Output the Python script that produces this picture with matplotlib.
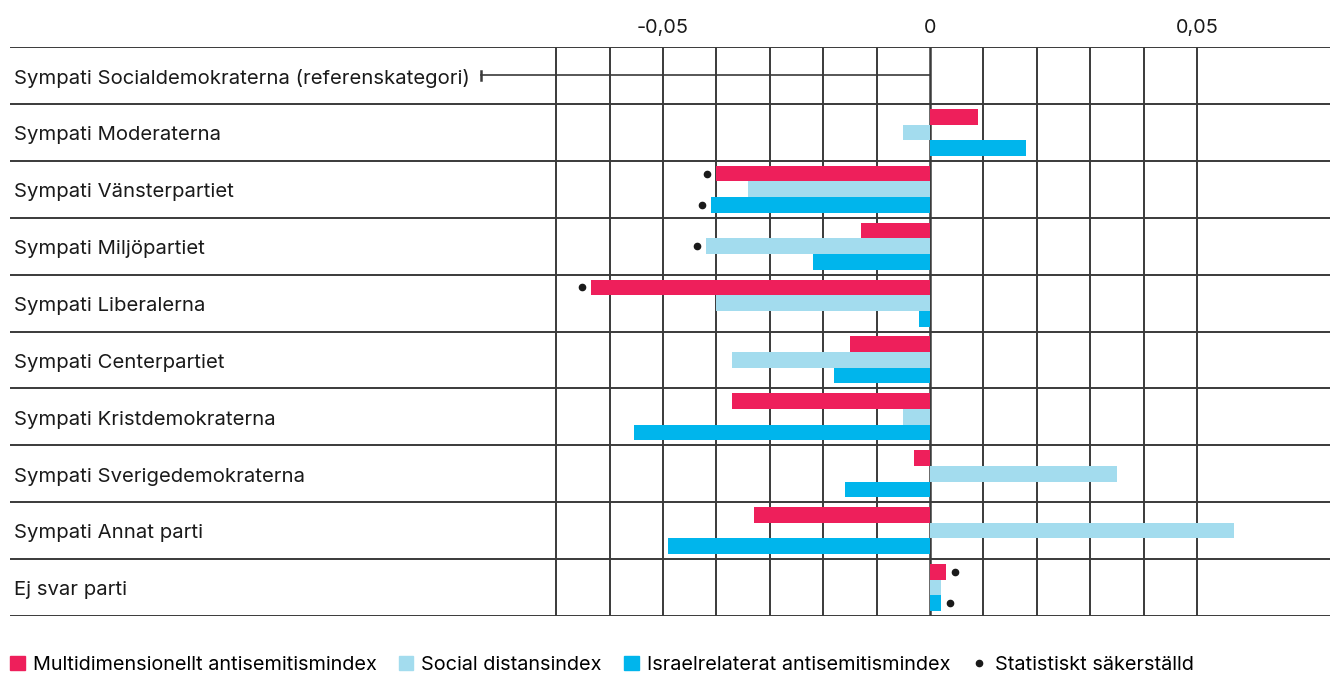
import matplotlib
matplotlib.use("Agg")
from matplotlib import pyplot as plt
from matplotlib.lines import Line2D
from matplotlib.patches import Patch
import numpy as np

plt.rcParams['font.family'] = ['Inter', 'DejaVu Sans']

# data
categories = [
    "Sympati Socialdemokraterna (referenskategori)",
    "Sympati Moderaterna",
    "Sympati Vänsterpartiet",
    "Sympati Miljöpartiet",
    "Sympati Liberalerna",
    "Sympati Centerpartiet",
    "Sympati Kristdemokraterna",
    "Sympati Sverigedemokraterna",
    "Sympati Annat parti",
    "Ej svar parti",
]
multi = [0, 0.009, -0.040, -0.013, -0.0635, -0.015, -0.037, -0.003, -0.033, 0.003]
social = [0, -0.005, -0.034, -0.042, -0.040, -0.037, -0.005, 0.035, 0.057, 0.002]
israel = [0, 0.018, -0.041, -0.022, -0.002, -0.018, -0.0555, -0.016, -0.049, 0.002]
# significance flags (multi, social, israel)
sig_multi = [False, False, True, False, True, False, False, False, False, True]
sig_social = [False, False, False, True, False, False, False, False, False, False]
sig_israel = [False, False, True, False, False, False, False, False, False, True]

series_names = ["Multidimensionellt antisemitismindex", "Social distansindex",
                "Israelrelaterat antisemitismindex"]
dot_name = "Statistiskt säkerställd"
tick_vals = [-0.05, 0, 0.05]
tick_labels = ["-0,05", "0", "0,05"]

colors = ["#EE1F5B", "#A3DCEE", "#00B5EC"]
grid_col = "#3a3a3a"
text_col = "#1a1a1a"

fig = plt.figure(figsize=(13.35, 6.73), dpi=100)
# axes spans full label column + plot area
ax = fig.add_axes([10 / 1335, 1 - 616 / 673, 1320 / 1335, (616 - 47) / 673])

px = 1 / 5340.0  # data units per pixel
xmin = -920 * px
xmax = 400 * px
ax.set_xlim(xmin, xmax)
n = len(categories)
ax.set_ylim(n, 0)

# grid
for g in np.arange(-0.07, 0.0501, 0.01):
    ax.axvline(g, color=grid_col, lw=1.4 if abs(g) > 1e-9 else 1.8, zorder=1)
for i in range(n + 1):
    ax.axhline(i, color=grid_col, lw=1.4, zorder=1)

h = 0.275
for i in range(1, n):
    yc = i + 0.5
    for k, (vals, sig) in enumerate([(multi, sig_multi), (social, sig_social), (israel, sig_israel)]):
        y = yc + (k - 1) * h
        v = vals[i]
        ax.barh(y, v, height=h, color=colors[k], zorder=3)
        if sig[i]:
            off = 9 * px * (1 if v > 0 else -1)
            ax.plot(v + off, y, 'o', color=text_col, ms=4.5, zorder=4)

# reference category line
ax.plot([-449 * px, 0], [0.5, 0.5], color=grid_col, lw=1.2, zorder=2)
ax.plot([-449 * px, -449 * px], [0.42, 0.58], color=grid_col, lw=1.8, zorder=2)

# category labels
for i, c in enumerate(categories):
    ax.text(xmin + 4 * px, i + 0.55, c, va='center', ha='left', fontsize=14.6,
            color=text_col, zorder=5)

ax.xaxis.tick_top()
ax.set_xticks(tick_vals)
ax.set_xticklabels(tick_labels, fontsize=14.3, color=text_col)
ax.tick_params(axis='x', length=0, pad=7)
ax.set_yticks([])
for s in ax.spines.values():
    s.set_visible(False)

handles = [Patch(color=c) for c in colors]
handles.append(Line2D([], [], marker='o', color=text_col, ls='', ms=4.5))
fig.legend(handles, series_names + [dot_name], loc='lower left',
           bbox_to_anchor=(0.0045, -0.007), ncol=4, frameon=False, borderpad=0.0,
           borderaxespad=0.2, fontsize=14.3, handlelength=0.75, handleheight=0.75,
           handletextpad=0.4, columnspacing=1.1)

fig.savefig("out.png", dpi=100)
